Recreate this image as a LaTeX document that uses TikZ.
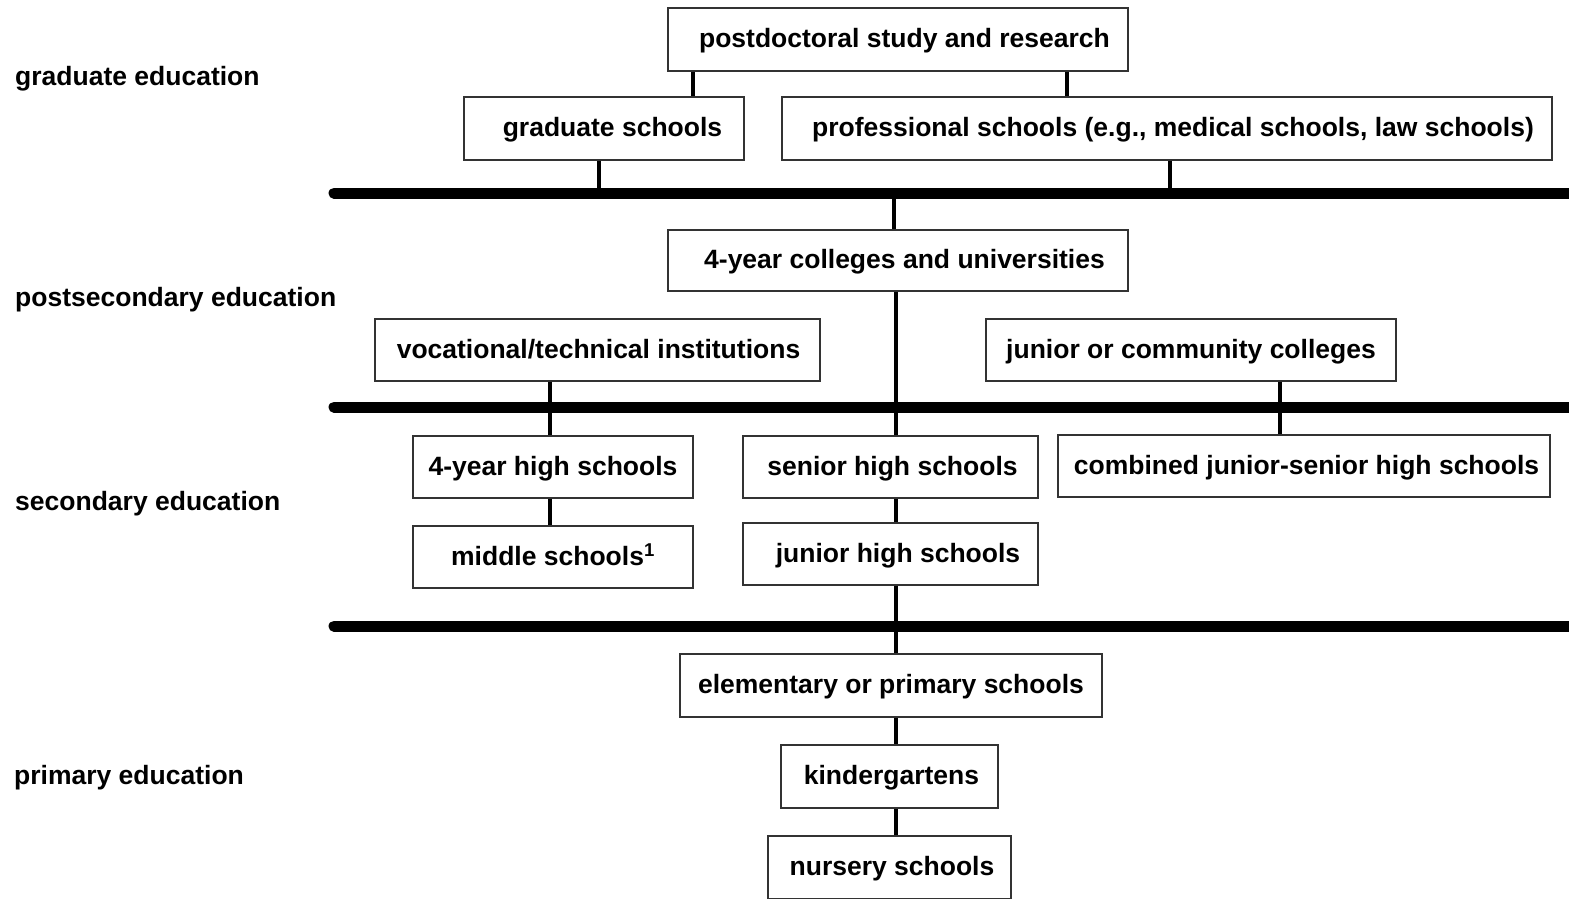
\documentclass[tikz,border=0pt]{standalone}
\usepackage{fontspec}
\setmainfont{Liberation Sans}
\begin{document}
\begin{tikzpicture}[x=1pt,y=-1pt,
  box/.style={draw=black!80, line width=1.4pt, minimum height=63pt, inner sep=0pt,
    text height=22pt, text depth=5.6pt,
    font=\fontsize{26.5}{30}\selectfont\bfseries},
  tx/.style={execute at begin node={\hspace*{#1}}},
  link/.style={line width=3.5pt},
  bar/.style={line width=11pt, line cap=round},
  side/.style={anchor=base west, inner sep=0pt, font=\fontsize{26.5}{30}\selectfont\bfseries}]
\useasboundingbox (0,0) rectangle (1569,898);

% level labels
\node[side] (lg)  at (15,85)  {graduate education};
\node[side] (lp)  at (15,306) {postsecondary education};
\node[side] (ls)  at (15,510) {secondary education};
\node[side] (lpr) at (14,784) {primary education};

% boxes
\node[box, tx=13pt, minimum width=460pt] (postdoc) at (898,39.5)  {postdoctoral study and research};
\node[box, tx=17pt, minimum width=280pt] (grad)    at (604,128.5) {graduate schools};
\node[box, tx=12pt, minimum width=770pt] (prof)    at (1167,128.5) {professional schools (e.g., medical schools, law schools)};
\node[box, tx=13pt, minimum width=460pt, minimum height=61pt] (coll4) at (898,260.5) {4-year colleges and universities};
\node[box, tx=2pt, minimum width=445pt, minimum height=62pt] (voc)   at (597.5,350) {vocational/technical institutions};
\node[box, minimum width=410pt, minimum height=62pt] (jcc)   at (1191,350)  {junior or community colleges};
\node[box, minimum width=280pt, minimum height=62pt] (hs4)   at (553,467)   {4-year high schools};
\node[box, tx=4pt, minimum width=295pt, minimum height=62pt] (senior) at (890.5,467) {senior high schools};
\node[box, tx=5pt, minimum width=492pt, minimum height=62pt] (comb)  at (1304,466)  {combined junior-senior high schools};
\node[box, minimum width=280pt, minimum height=62pt] (middle) at (553,557)  {middle schools\textsuperscript{1}};
\node[box, tx=15pt, minimum width=295pt, minimum height=62pt] (junior) at (890.5,554) {junior high schools};
\node[box, minimum width=422pt] (elem)    at (891,685.5)   {elementary or primary schools};
\node[box, tx=4pt, minimum width=217pt] (kinder)  at (889.5,776.5) {kindergartens};
\node[box, tx=5pt, minimum width=243pt] (nursery) at (889.5,867.5) {nursery schools};

% column coordinates
\coordinate (c550) at (550,0);
\coordinate (c599) at (599,0);
\coordinate (c693) at (693,0);
\coordinate (c894) at (894,0);
\coordinate (c896) at (896,0);
\coordinate (c1067) at (1067,0);
\coordinate (c1170) at (1170,0);
\coordinate (c1280) at (1280,0);

% heavy bars
\coordinate (b1) at (334,193);
\coordinate (b2) at (334,407);
\coordinate (b3) at (334,626);
\coordinate (b1e) at (1620,193);
\coordinate (b2e) at (1620,407);
\coordinate (b3e) at (1620,626);
\draw[bar] (b1) -- (b1e);
\draw[bar] (b2) -- (b2e);
\draw[bar] (b3) -- (b3e);

% connectors
\draw[link] (postdoc.south -| c693) -- (grad.north -| c693);
\draw[link] (postdoc.south -| c1067) -- (prof.north -| c1067);
\draw[link] (grad.south -| c599) -- (b1 -| c599);
\draw[link] (prof.south -| c1170) -- (b1 -| c1170);
\draw[link] (b1 -| c894) -- (coll4.north -| c894);
\draw[link] (coll4.south -| c896) -- (senior.north -| c896);
\draw[link] (voc.south -| c550) -- (hs4.north -| c550);
\draw[link] (jcc.south -| c1280) -- (comb.north -| c1280);
\draw[link] (hs4.south -| c550) -- (middle.north -| c550);
\draw[link] (senior.south -| c896) -- (junior.north -| c896);
\draw[link] (junior.south -| c896) -- (elem.north -| c896);
\draw[link] (elem.south -| c896) -- (kinder.north -| c896);
\draw[link] (kinder.south -| c896) -- (nursery.north -| c896);
\end{tikzpicture}
\end{document}
